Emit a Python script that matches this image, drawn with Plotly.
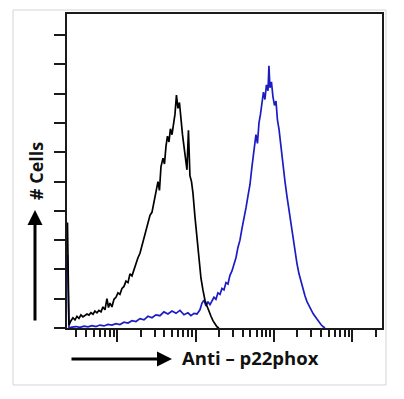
import plotly.graph_objects as go

# ---- data (x in log10 fluorescence units, y = cell counts in tick units) ----
ctrl_log = [0.364, 0.383, 0.409, 0.434, 0.460, 0.485, 0.511, 0.536, 0.562, 0.587,
            0.613, 0.639, 0.664, 0.690, 0.715, 0.741, 0.766, 0.792, 0.817, 0.843,
            0.868, 0.888, 0.907, 0.932, 0.958, 0.983, 1.009, 1.034, 1.060, 1.086,
            1.111, 1.137, 1.162, 1.188, 1.213, 1.239, 1.264, 1.290, 1.315, 1.341,
            1.366, 1.392, 1.418, 1.443, 1.469, 1.494, 1.520, 1.539, 1.558, 1.584,
            1.603, 1.622, 1.641, 1.660, 1.679, 1.699, 1.718, 1.737, 1.756, 1.775,
            1.794, 1.813, 1.833, 1.852, 1.871, 1.890, 1.909, 1.928, 1.948, 1.967,
            1.992, 2.018, 2.043, 2.069, 2.094, 2.120, 2.146, 2.171, 2.197, 2.222,
            2.248, 2.273, 2.299]
ctrl_cnt = [3.6, 0.1, 0.25, 0.35, 0.28, 0.4, 0.33, 0.45, 0.38, 0.42,
            0.48, 0.44, 0.52, 0.47, 0.58, 0.52, 0.6, 0.55, 0.72, 0.62,
            1.0, 0.7, 0.85, 0.72, 0.98, 1.05, 1.2, 1.15, 1.35, 1.42,
            1.6, 1.55, 1.85, 1.78, 2.0, 2.15, 2.4, 2.55, 2.8, 3.1,
            3.3, 3.6, 3.85, 3.95, 4.3, 4.6, 5.0, 4.7, 5.5, 5.8,
            5.6, 6.2, 6.55, 6.35, 6.8, 6.6, 7.0, 7.3, 7.95, 7.5,
            7.7, 7.0, 6.6, 6.2, 5.7, 5.4, 6.75, 5.2, 5.0, 4.6,
            3.8, 3.0, 2.4, 1.7, 1.3, 0.95, 0.75, 0.55, 0.4, 0.25,
            0.12, 0.04, 0.0]

p22_log = [0.364, 0.383, 0.421, 0.473, 0.524, 0.575, 0.626, 0.677, 0.728, 0.779,
           0.830, 0.881, 0.932, 0.983, 1.034, 1.086, 1.137, 1.188, 1.239, 1.290,
           1.341, 1.392, 1.443, 1.494, 1.545, 1.596, 1.647, 1.699, 1.750, 1.801,
           1.852, 1.903, 1.941, 1.980, 2.018, 2.056, 2.082, 2.107, 2.133, 2.158,
           2.184, 2.209, 2.235, 2.260, 2.286, 2.312, 2.337, 2.363, 2.388, 2.414,
           2.439, 2.465, 2.490, 2.516, 2.541, 2.567, 2.593, 2.618, 2.644, 2.669,
           2.695, 2.720, 2.746, 2.771, 2.790, 2.810, 2.829, 2.848, 2.867, 2.886,
           2.905, 2.925, 2.937, 2.950, 2.969, 2.988, 3.008, 3.027, 3.046, 3.065,
           3.084, 3.103, 3.123, 3.142, 3.167, 3.193, 3.218, 3.244, 3.269, 3.295,
           3.321, 3.346, 3.372, 3.397, 3.423, 3.448, 3.474, 3.499, 3.525, 3.550,
           3.576, 3.601, 3.627, 3.653]
p22_cnt = [2.5, 0.0, 0.03, 0.05, 0.02, 0.06, 0.04, 0.08, 0.05, 0.1,
           0.07, 0.12, 0.1, 0.15, 0.12, 0.2, 0.17, 0.25, 0.22, 0.32,
           0.28, 0.4, 0.35, 0.45, 0.42, 0.55, 0.48, 0.58, 0.5, 0.6,
           0.45, 0.52, 0.42, 0.5, 0.48, 0.62, 0.85, 0.95, 0.75, 0.9,
           0.8, 0.95, 1.05, 0.98, 1.2, 1.15, 1.35, 1.3, 1.55, 1.5,
           1.8, 1.95, 2.2, 2.4, 2.75, 3.0, 3.4, 3.7, 4.1, 4.5,
           4.9, 5.5, 6.0, 6.6, 6.3, 7.0, 7.3, 7.6, 8.05, 7.8,
           8.3, 8.1, 8.95, 8.2, 8.4, 7.9, 7.6, 7.75, 7.1, 6.8,
           6.3, 6.0, 5.4, 5.0, 4.5, 4.0, 3.5, 3.0, 2.6, 2.2,
           1.85, 1.6, 1.3, 1.1, 0.9, 0.75, 0.6, 0.5, 0.4, 0.3,
           0.2, 0.12, 0.05, 0.0]

y_ticks = list(range(0, 11))
x_major = [10, 100, 1000, 10000]
x_minor = [m * d for d in (1, 10, 100, 1000, 10000) for m in range(2, 10)]

x_title = "Anti – p22phox"
y_title = "# Cells"

fig = go.Figure()
fig.add_trace(go.Scatter(x=[10 ** v for v in p22_log], y=p22_cnt, mode="lines",
                         line=dict(color="#1c1cc4", width=1.7), showlegend=False))
fig.add_trace(go.Scatter(x=[10 ** v for v in ctrl_log], y=ctrl_cnt, mode="lines",
                         line=dict(color="#000000", width=1.7), showlegend=False))

axis_color = "#1a1a1a"
fig.update_xaxes(type="log", range=[0.358, 4.381], showgrid=False, zeroline=False,
                 showline=True, linecolor=axis_color, linewidth=2, mirror=True,
                 tickmode="array", tickvals=x_major, ticktext=[""] * 4,
                 ticks="outside", ticklen=12, tickwidth=1.5, tickcolor=axis_color,
                 minor=dict(tickmode="array", tickvals=x_minor, ticks="outside",
                            ticklen=7, tickwidth=1.5, tickcolor=axis_color,
                            showgrid=False))
fig.update_yaxes(range=[0, 10.72], showgrid=False, zeroline=False,
                 showline=True, linecolor=axis_color, linewidth=2, mirror=True,
                 tickmode="array", tickvals=y_ticks, ticktext=[""] * len(y_ticks),
                 ticks="outside", ticklen=11, tickwidth=1.5, tickcolor=axis_color)

font_x = dict(family="Open Sans, DejaVu Sans, sans-serif", size=18.5,
              color="#111111", weight="bold")
font_y = dict(family="Open Sans, DejaVu Sans, sans-serif", size=18,
              color="#111111", weight="bold")

fig.add_annotation(text=x_title, xref="paper", yref="paper", x=0.3587, y=-0.0955,
                   xanchor="left", yanchor="middle", showarrow=False, font=font_x)
fig.add_annotation(text=y_title, xref="paper", yref="paper", x=-0.1, y=0.498,
                   textangle=-90, xanchor="center", yanchor="middle",
                   showarrow=False, font=font_y)
# arrows
fig.add_annotation(text="", xref="paper", yref="paper", x=0.3333, y=-0.0987,
                   ax=-102, ay=0, showarrow=True, arrowhead=2, arrowsize=1,
                   arrowwidth=3, arrowcolor="#000000", standoff=0)
fig.add_annotation(text="", xref="paper", yref="paper", x=-0.1016, y=0.3758,
                   ax=0, ay=112, showarrow=True, arrowhead=2, arrowsize=1,
                   arrowwidth=3, arrowcolor="#000000", standoff=0)

# light frame around the picture
fig.add_shape(type="rect", xref="paper", yref="paper", x0=-0.1714, x1=1.0127,
              y0=-0.1815, y1=1.0127, line=dict(color="#d4d4d4", width=1),
              layer="below")

fig.update_layout(width=404, height=399, margin=dict(l=67, r=22, t=14, b=71),
                  paper_bgcolor="white", plot_bgcolor="white")

fig.write_html("out.html", config={"displayModeBar": False},
               post_script="document.body.style.margin='0';")
